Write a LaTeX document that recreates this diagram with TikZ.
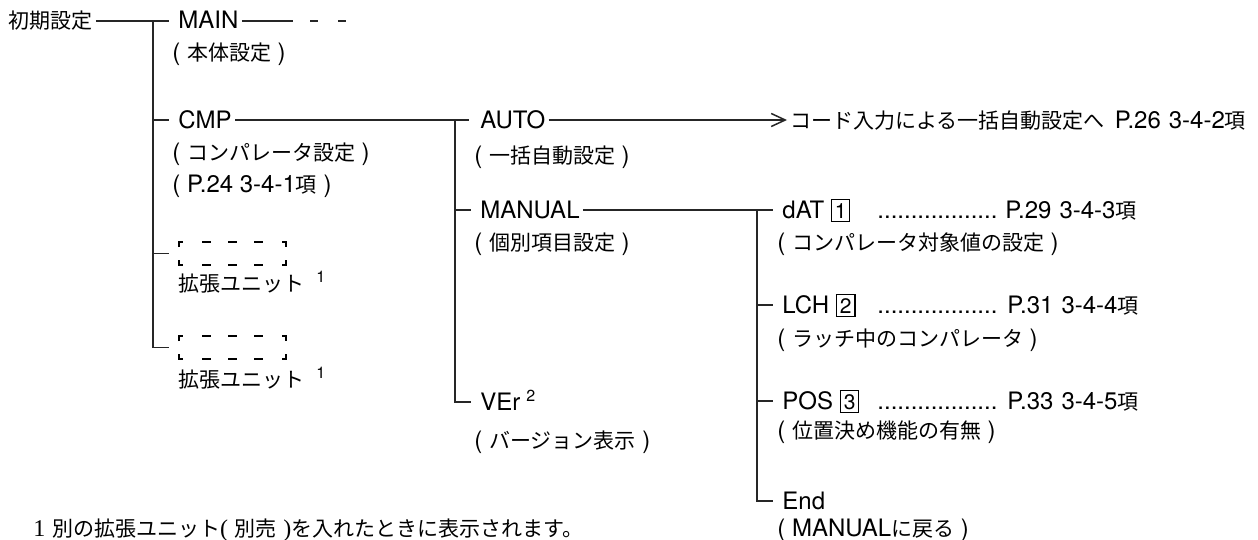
\documentclass[tikz,border=0pt]{standalone}
\usepackage{fontspec}
\setmainfont{TeX Gyre Heros}
\newfontfamily\jp[Scale=0.875]{Noto Sans CJK JP}
\newfontfamily\notenum{Liberation Serif}
\usetikzlibrary{arrows.meta}
\newcommand{\numbox}[1]{{\setlength{\fboxsep}{1.4pt}\setlength{\fboxrule}{0.6pt}\fbox{\fontsize{10.5}{10.5}\selectfont #1}}}
\tikzset{
	lbl/.style={anchor=west, inner xsep=1.5pt, inner ysep=2pt, text height=9pt, text depth=1pt, font=\fontsize{12}{14}\selectfont},
	conn/.style={draw, line width=0.75pt, black!85},
	tick/.style={conn, shorten >=3pt},
	unitbox/.pic={
		\draw[line width=0.65pt] (0,5) -- (0,0) -- (4,0);
		\draw[line width=0.65pt] (103,0) -- (107,0) -- (107,5);
		\draw[line width=0.65pt] (0,18) -- (0,23) -- (4,23);
		\draw[line width=0.65pt] (103,23) -- (107,23) -- (107,18);
		\draw[line width=0.65pt, dash pattern=on 4.5pt off 8.5pt] (23,0) -- (85,0) (23,23) -- (85,23);
	}
}
\begin{document}
\begin{tikzpicture}[x=0.5pt, y=-0.5pt]
		\useasboundingbox (0,0) rectangle (1258,540);
		\node[lbl] (init) at (5, 21) {\jp 初期設定};
		\node[lbl] (main) at (175, 21) {MAIN};
		\node[lbl] (main_sub) at (169, 53) {( {\jp 本体設定} )};
		\node[lbl] (cmp) at (175, 120) {CMP};
		\node[lbl] (cmp_sub) at (169, 153) {( {\jp コンパレータ設定} )};
		\node[lbl] (cmp_page) at (169, 184) {( P.24 3-4-1{\jp 項} )};
		\pic at (179, 242) {unitbox};
		\node[lbl] (unit_a) at (175, 283) {{\jp 拡張ユニット}\hspace{6pt}\textsuperscript{1}};
		\pic at (179, 336) {unitbox};
		\node[lbl] (unit_b) at (175, 379) {{\jp 拡張ユニット}\hspace{6pt}\textsuperscript{1}};
		\coordinate (trunk) at (153, 21);
		\coordinate (main_end) at (293, 21);
		\coordinate (main_dash) at (310, 21);
		\coordinate (main_dash_end) at (347, 21);
		\coordinate (tick_a) at (169, 253.5);
		\coordinate (tick_b) at (169, 347.5);
		\path [tick] (init) -- (main);
		\path [conn] (main) -- (main_end);
		\path [conn, dash pattern=on 4pt off 10pt] (main_dash) -- (main_dash_end);
		\path [conn] (trunk) |- (tick_b);
		\path [tick] (cmp.west -| trunk) -- (cmp);
		\path [conn] (tick_a -| trunk) -- (tick_a);

		\node[lbl] (auto) at (477, 120) {AUTO};
		\node[lbl] (auto_sub) at (471, 155) {( {\jp 一括自動設定} )};
		\node[lbl] (auto_ref) at (787, 120) {{\jp コード入力による一括自動設定へ}\hspace{5pt}P.26\hspace{4pt}3-4-2{\jp 項}};
		\node[lbl] (manual) at (477, 210) {MANUAL};
		\node[lbl] (manual_sub) at (471, 242) {( {\jp 個別項目設定} )};
		\node[lbl] (ver) at (477, 402) {VEr\hspace{3pt}\textsuperscript{2}};
		\node[lbl] (ver_sub) at (471, 440) {( {\jp バージョン表示} )};
		\coordinate (mid) at (455, 120);
		\path [tick, shorten >=4pt] (cmp) -- (auto);
		\path [conn, -{Straight Barb[length=7pt, width=6.5pt]}] (auto) -- (auto_ref);
		\path [tick] (mid) |- (ver);
		\path [tick] (manual.west -| mid) -- (manual);

		\node[lbl] (dat) at (779, 210) {dAT \numbox{1}};
		\node[lbl] (dat_dots) at (874, 210) {..................};
		\node[lbl] (dat_ref) at (1002, 210) {P.29\hspace{4pt}3-4-3{\jp 項}};
		\node[lbl] (dat_sub) at (774, 242) {( {\jp コンパレータ対象値の設定} )};
		\node[lbl] (lch) at (779, 305) {LCH \numbox{2}};
		\node[lbl] (lch_dots) at (874, 305) {..................};
		\node[lbl] (lch_ref) at (1004, 305) {P.31\hspace{4pt}3-4-4{\jp 項}};
		\node[lbl] (lch_sub) at (774, 338) {( {\jp ラッチ中のコンパレータ} )};
		\node[lbl] (pos) at (779, 401) {POS \numbox{3}};
		\node[lbl] (pos_dots) at (874, 401) {..................};
		\node[lbl] (pos_ref) at (1004, 401) {P.33\hspace{4pt}3-4-5{\jp 項}};
		\node[lbl] (pos_sub) at (774, 430) {( {\jp 位置決め機能の有無} )};
		\node[lbl] (end) at (779, 501) {End};
		\node[lbl] (end_sub) at (774, 528) {( MANUAL{\jp に戻る} )};
		\coordinate (right) at (757, 210);
		\path [tick] (manual) -- (dat);
		\path [tick] (right) |- (end);
		\path [tick] (lch.west -| right) -- (lch);
		\path [tick] (pos.west -| right) -- (pos);

		\node[lbl] (note) at (30, 528) {{\notenum 1} {\jp 別の拡張ユニット}{\notenum (} {\jp 別売} {\notenum )}{\jp を入れたときに表示されます。}};
	\end{tikzpicture}
\end{document}
